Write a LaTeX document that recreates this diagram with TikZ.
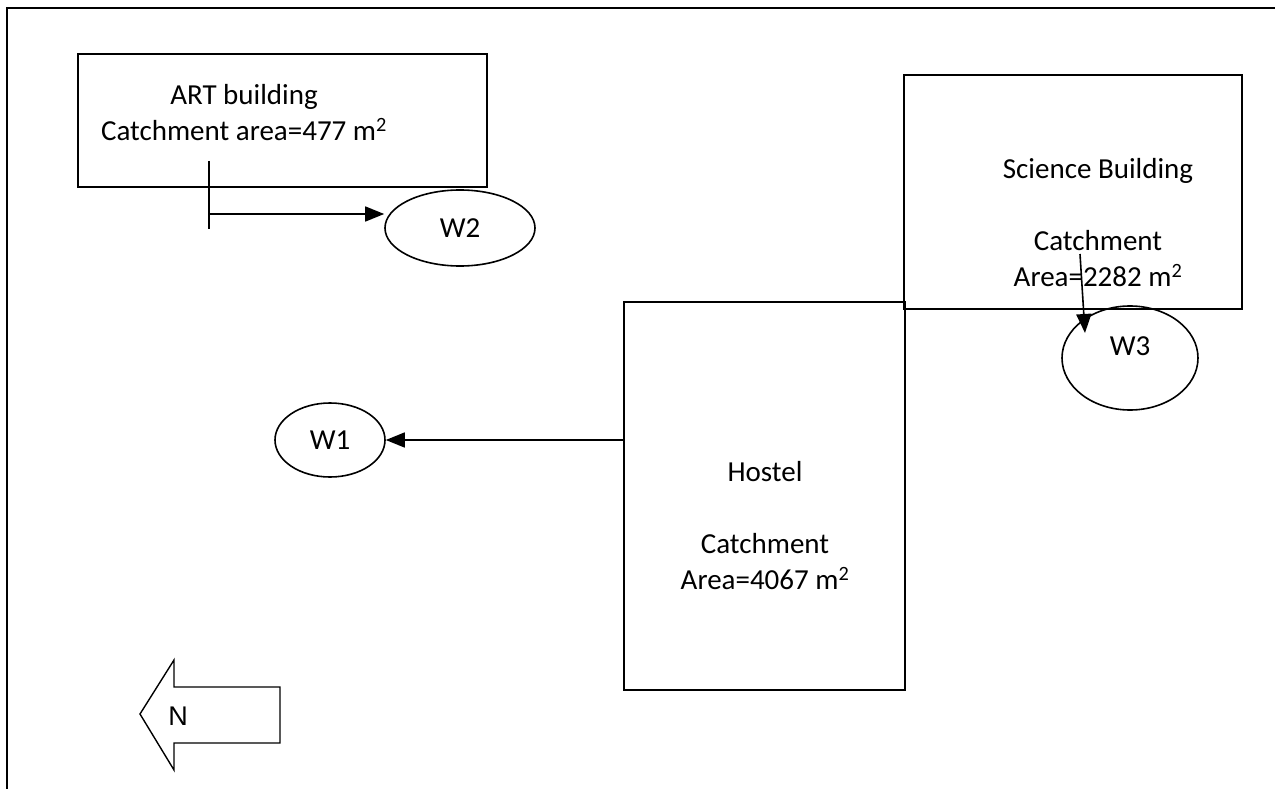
\documentclass[tikz,border=0pt]{standalone}
\usepackage{fontspec}
\setmainfont{Carlito}
\newfontfamily\arialfont{Liberation Sans}
\usetikzlibrary{arrows.meta,shapes.geometric}
\tikzset{
  line/.style={draw=black, line width=1.6pt},
  bldg/.style={line, rectangle, inner sep=0pt},
  well/.style={line, ellipse, inner sep=0pt, font=\fontsize{29}{35}\selectfont},
  lbl/.style={align=center, inner sep=0pt, font=\fontsize{29}{36}\selectfont},
  flow/.style={line, -{Triangle[length=19pt,width=15pt]}},
}
\begin{document}
\begin{tikzpicture}[x=1pt,y=-1pt]
\useasboundingbox (0,0) rectangle (1275,789);
% outer frame (top and left edges)
\draw[line] (7,789) -- (7,8) -- (1275,8);

% buildings
\node[bldg, minimum width=409pt, minimum height=133pt] (art) at (282.5,120.5) {};
\node[bldg, minimum width=338pt, minimum height=234pt] (sci) at (1073,192) {};
\node[bldg, minimum width=281pt, minimum height=388pt] (hostel) at (764.5,496) {};

% building texts
\node[lbl] (arttxt) at (244,113) {ART building\\Catchment area=477 m\textsuperscript{2}};
\node[lbl] (scitxt) at (1098,223) {Science Building\\[36pt]Catchment\\Area=2282 m\textsuperscript{2}};
\node[lbl] (hosttxt) at (765,526) {Hostel\\[36pt]Catchment\\Area=4067 m\textsuperscript{2}};

% wells
\node[well, minimum width=150pt, minimum height=76pt] (w2) at (460,228) {W2};
\node[well, minimum width=110pt, minimum height=74pt] (w1) at (330,440) {W1};
\node[well, minimum width=136pt, minimum height=104pt, label={[font=\fontsize{29}{35}\selectfont, yshift=12pt]center:W3}] (w3) at (1130,358) {};

% connectors
\coordinate (arttop) at (209,161);
\coordinate (artbot) at (209,229);
\coordinate (artout) at (209,214);
\draw[line] (arttop) -- (artbot);
\draw[flow] (artout) -- (w2.west |- artout);

\coordinate (hostout) at (624,440);
\draw[flow] (hostout) -- (w1.east);

\coordinate (scidrop) at (1080,254);
\coordinate (w3in) at (1085,333);
\draw[flow] (scidrop) -- (w3in);

% north arrow
\draw[line, line width=1.4pt] (140,714) -- (174,660) -- (174,687) -- (280,687) -- (280,743) -- (174,743) -- (174,770) -- cycle;
\node[font=\arialfont\fontsize{27}{31}\selectfont, inner sep=0pt] (north) at (178,716) {N};
\end{tikzpicture}
\end{document}
